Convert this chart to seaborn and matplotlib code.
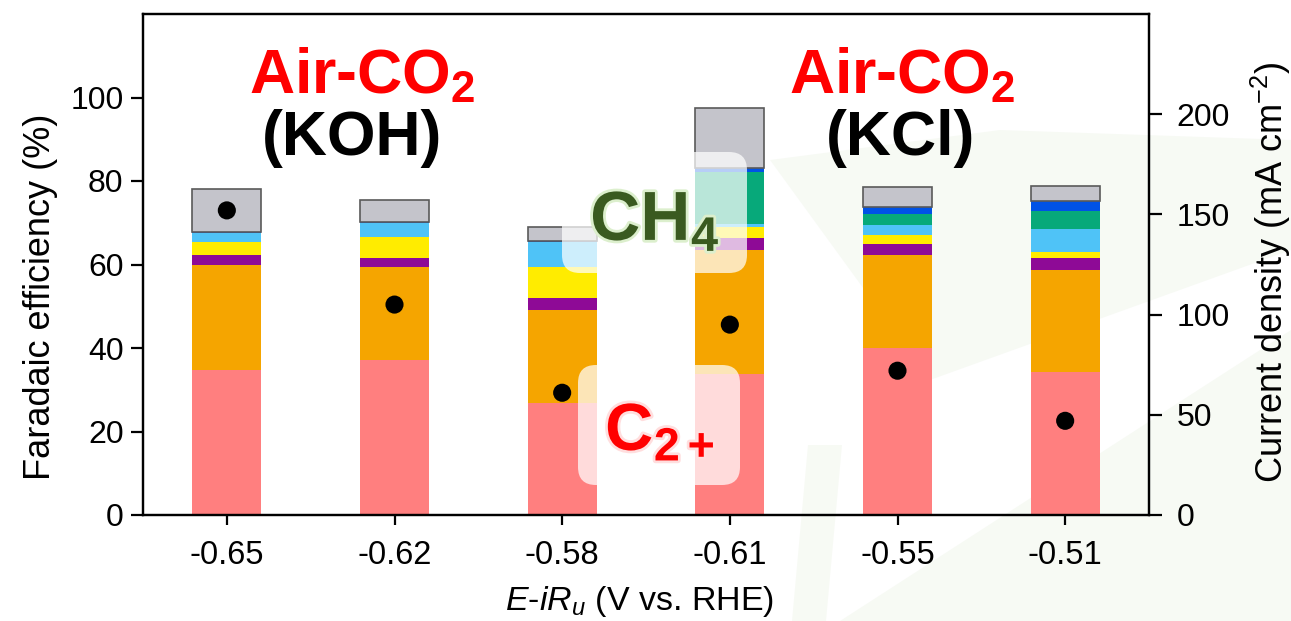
import numpy as np
import matplotlib.pyplot as plt
import seaborn as sns
import matplotlib.patheffects as pe
from matplotlib.patches import FancyBboxPatch, Polygon

sns.set_style("ticks")
plt.rcParams['font.family'] = ['Liberation Sans', 'DejaVu Sans']
plt.rcParams['mathtext.fontset'] = 'custom'
plt.rcParams['mathtext.rm'] = 'Liberation Sans'
plt.rcParams['mathtext.it'] = 'Liberation Sans:italic'
plt.rcParams['mathtext.bf'] = 'Liberation Sans:bold'
for key in ['text.color', 'axes.labelcolor', 'xtick.color', 'ytick.color', 'axes.edgecolor']:
    plt.rcParams[key] = 'black'

# --- data ---
potentials = ["-0.65", "-0.62", "-0.58", "-0.61", "-0.55", "-0.51"]

# Faradaic efficiency (%) per product, stacked bottom -> top
fe_c2h4 = [34.7, 37.1, 26.8, 33.7, 40.0, 34.2]
fe_c2_liquid = [25.1, 22.2, 22.2, 29.7, 22.2, 24.4]
fe_acetate = [2.4, 2.2, 2.9, 2.9, 2.6, 2.9]
fe_propanol = [3.1, 5.0, 7.4, 2.6, 2.2, 1.4]
fe_formate = [2.2, 3.4, 6.0, 0.7, 2.4, 5.5]
fe_ch4 = [0.0, 0.0, 0.0, 12.5, 2.6, 4.3]
fe_co = [0.3, 0.3, 0.3, 0.9, 1.7, 2.4]
fe_h2 = [10.4, 5.2, 3.5, 14.4, 4.8, 3.8]

# current density (mA cm-2), black dots on right axis
current_density = [152, 105, 61, 95, 72, 47]

segments = [
    (fe_c2h4, "#ff7f7f"),
    (fe_c2_liquid, "#f5a500"),
    (fe_acetate, "#8e0a96"),
    (fe_propanol, "#ffec00"),
    (fe_formate, "#4fc3f7"),
    (fe_ch4, "#07a97a"),
    (fe_co, "#0052e6"),
    (fe_h2, "#c4c4cb"),
]

W, H = 1291, 621
fig = plt.figure(figsize=(W / 100, H / 100), dpi=100)

# faint watermark in the background
bg = fig.add_axes([0, 0, 1, 1])
bg.set_zorder(-1)
bg.set_xlim(0, W)
bg.set_ylim(H, 0)
bg.axis('off')
for pts in [
    [(792, 621), (826, 621), (842, 445), (808, 445)],
    [(840, 621), (1291, 621), (1291, 330)],
    [(770, 160), (1000, 130), (1291, 140), (1291, 250), (930, 380)],
]:
    bg.add_patch(Polygon(pts, closed=True, fc="#eef4e8", ec="none", alpha=0.45))

ax = fig.add_axes([143 / W, 1 - 515 / H, (1149 - 143) / W, (515 - 14) / H])
ax.set_facecolor('none')

bottom = np.zeros(len(potentials))
for i, (vals, col) in enumerate(segments):
    is_top = i == len(segments) - 1
    sns.barplot(x=potentials, y=vals, bottom=bottom, color=col, saturation=1,
                width=0.41, ax=ax, edgecolor="#5a5a5a" if is_top else "none",
                linewidth=1.2 if is_top else 0)
    bottom += np.array(vals)

ax2 = ax.twinx()
sns.scatterplot(x=np.arange(len(potentials)), y=current_density, ax=ax2,
                s=170, color="black", edgecolor="none", zorder=5)

ax.set_xlim(-0.5, 5.5)
ax.set_ylim(0, 120)
ax2.set_ylim(0, 250)
ax.set_yticks([0, 20, 40, 60, 80, 100])
ax2.set_yticks([0, 50, 100, 150, 200])

for spine in list(ax.spines.values()) + list(ax2.spines.values()):
    spine.set_linewidth(1.6)
    spine.set_color("black")
    spine.set_visible(True)

ax.tick_params(axis='y', labelsize=23, length=9, width=1.6, pad=5, direction='out')
ax.tick_params(axis='x', labelsize=23.5, length=7, width=1.6, pad=11, direction='out')
ax2.tick_params(axis='y', labelsize=23, length=9, width=1.6, pad=11, direction='out')

ax.set_xlabel(r"$E$-$iR_u$ (V vs. RHE)", fontsize=24.5)
ax.set_ylabel("Faradaic efficiency (%)", fontsize=26)
ax2.set_ylabel(r"Current density (mA cm$^{-2}$)", fontsize=26)
ax.xaxis.set_label_coords(0.494, -0.138)
ax.yaxis.set_label_coords(-0.084, 0.435)
ax2.yaxis.set_label_coords(1.099, 0.485)

# overlay annotations in pixel coordinates
ov = fig.add_axes([0, 0, 1, 1])
ov.set_zorder(5)
ov.set_xlim(0, W)
ov.set_ylim(H, 0)
ov.axis('off')

for x0, y0, x1, y1 in [(562, 152, 747, 273), (578, 365, 740, 485)]:
    ov.add_patch(FancyBboxPatch((x0, y0), x1 - x0, y1 - y0,
                                boxstyle="round,pad=0,rounding_size=18",
                                fc="white", ec="none", alpha=0.72))

title_kw = dict(ha='center', va='baseline', fontsize=45, fontweight='bold')
ov.text(362, 93, r"Air-CO$_{\mathbf{2}}$", color="#ff0000", **title_kw)
ov.text(352, 155, "(KOH)", color="black", **title_kw)
ov.text(902, 93, r"Air-CO$_{\mathbf{2}}$", color="#ff0000", **title_kw)
ov.text(901, 155, "(KCl)", color="black", **title_kw)

ov.text(655, 240, r"CH$_{\mathbf{4}}$", color="#3a5a20", ha='center', va='baseline',
        fontsize=50, fontweight='bold',
        path_effects=[pe.withStroke(linewidth=4, foreground="#dcefcd")])
ov.text(660, 450, r"C$_{\mathbf{2+}}$", color="#ff0000", ha='center', va='baseline',
        fontsize=48, fontweight='bold',
        path_effects=[pe.withStroke(linewidth=4, foreground="#ffdede")])

fig.savefig("out.png", dpi=100)
